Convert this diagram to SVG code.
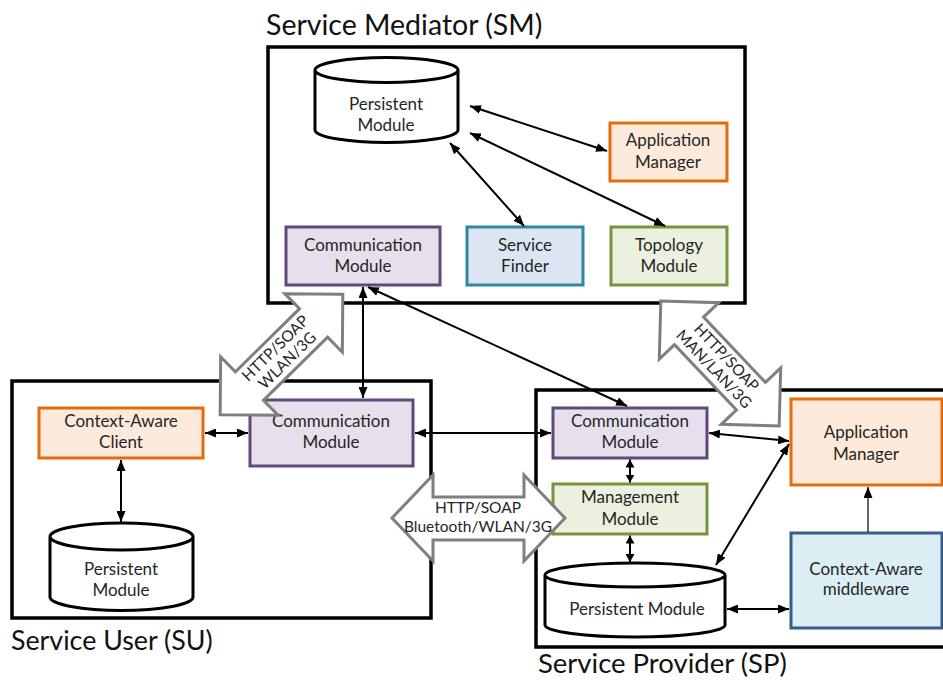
<svg xmlns="http://www.w3.org/2000/svg" width="943" height="682" viewBox="0 0 943 682">
<style>
text{font-family:Lato,"Liberation Sans",sans-serif;fill:#262626;text-anchor:middle}
.t{font-size:17px}
.title{font-size:28.5px;text-anchor:start;fill:#111}
.al{font-size:15.5px}
.cont{fill:none;stroke:#000;stroke-width:3.5}
.cyl{fill:#fff;stroke:#000;stroke-width:3}
.box{stroke-width:3}
.orange{fill:#FDEADA;stroke:#E46C0A}
.purple{fill:#E6E0EC;stroke:#604A7B}
.teal{fill:#DCE6F2;stroke:#31859C}
.green{fill:#EBF1DE;stroke:#77933C}
.blue{fill:#DBEEF4;stroke:#385D8A}
.blk{fill:#fff;stroke:#7F7F7F;stroke-width:3}
.c{stroke:#000;stroke-width:2;fill:none}
</style>
<defs>
<marker id="ah" markerUnits="userSpaceOnUse" markerWidth="11" markerHeight="9" refX="11" refY="4.5" orient="auto-start-reverse"><path d="M0,0 L11,4.5 L0,9 Z" fill="#000"/></marker>
<marker id="ahs" markerUnits="userSpaceOnUse" markerWidth="8" markerHeight="9" refX="8" refY="4.5" orient="auto-start-reverse"><path d="M0,0 L8,4.5 L0,9 Z" fill="#000"/></marker>
</defs>
<rect width="943" height="682" fill="#fff"/>

<g id="containers">
<rect class="cont" x="268" y="47" width="477" height="256"/>
<text class="title" x="266" y="35">Service Mediator (SM)</text>
<rect class="cont" x="12" y="381" width="419" height="237"/>
<text class="title" x="11" y="650" style="font-size:26.8px">Service User (SU)</text>
<rect class="cont" x="536" y="390" width="420" height="257"/>
<text class="title" x="538" y="673" style="font-size:27.5px">Service Provider (SP)</text>
</g>

<g id="sm-persistent">
<path class="cyl" d="M315,70 A71.5,12.5 0 0 1 458,70 V130 A71.5,12.5 0 0 1 315,130 Z M315,70 A71.5,12.5 0 0 0 458,70"/>
<text class="t" x="386" y="110">Persistent</text>
<text class="t" x="386" y="131">Module</text>
</g>
<g id="sm-appmanager">
<rect class="box orange" x="610" y="123" width="117" height="58"/>
<text class="t" x="668" y="146">Application</text>
<text class="t" x="668" y="168">Manager</text>
</g>
<g id="sm-comm">
<rect class="box purple" x="286" y="227" width="154" height="58"/>
<text class="t" x="363" y="251">Communication</text>
<text class="t" x="363" y="272">Module</text>
</g>
<g id="sm-finder">
<rect class="box teal" x="467" y="227" width="116" height="58"/>
<text class="t" x="525" y="251">Service</text>
<text class="t" x="525" y="272">Finder</text>
</g>
<g id="sm-topology">
<rect class="box green" x="611" y="227" width="116" height="58"/>
<text class="t" x="669" y="251">Topology</text>
<text class="t" x="669" y="272">Module</text>
</g>

<g id="su-client">
<rect class="box orange" x="39" y="408" width="164" height="50"/>
<text class="t" x="121" y="427">Context-Aware</text>
<text class="t" x="121" y="448">Client</text>
</g>
<g id="su-comm">
<rect class="box purple" x="250" y="400" width="163" height="66"/>
<text class="t" x="331" y="427">Communication</text>
<text class="t" x="331" y="448">Module</text>
</g>
<g id="su-persistent">
<path class="cyl" d="M50,536.5 A71.5,13.5 0 0 1 193,536.5 V597 A71.5,13.5 0 0 1 50,597 Z M50,536.5 A71.5,13.5 0 0 0 193,536.5"/>
<text class="t" x="121" y="575">Persistent</text>
<text class="t" x="121" y="596">Module</text>
</g>

<g id="sp-comm">
<rect class="box purple" x="553" y="408" width="154" height="50"/>
<text class="t" x="630" y="427">Communication</text>
<text class="t" x="630" y="448">Module</text>
</g>
<g id="sp-management">
<rect class="box green" x="553" y="484" width="154" height="50"/>
<text class="t" x="630" y="503">Management</text>
<text class="t" x="630" y="525">Module</text>
</g>
<g id="sp-persistent">
<path class="cyl" d="M545,575 A90,12 0 0 1 725,575 V625 A90,12 0 0 1 545,625 Z M545,575 A90,12 0 0 0 725,575"/>
<text class="t" x="637" y="615">Persistent Module</text>
</g>
<g id="sp-appmanager">
<rect class="box orange" x="791" y="399" width="151" height="86"/>
<text class="t" x="866" y="438">Application</text>
<text class="t" x="866" y="460">Manager</text>
</g>
<g id="sp-middleware">
<rect class="box blue" x="791" y="533" width="151" height="95"/>
<text class="t" x="866" y="575">Context-Aware</text>
<text class="t" x="866" y="595">middleware</text>
</g>

<g id="connectors">
<line class="c" x1="470" y1="106" x2="607" y2="151" marker-start="url(#ah)" marker-end="url(#ah)"/>
<line class="c" x1="470" y1="133" x2="665" y2="226" marker-start="url(#ah)" marker-end="url(#ah)"/>
<line class="c" x1="450" y1="143" x2="524" y2="226" marker-start="url(#ah)" marker-end="url(#ah)"/>
<line class="c" x1="363" y1="287" x2="363" y2="398" marker-start="url(#ah)" marker-end="url(#ah)"/>
<line class="c" x1="368" y1="287" x2="627" y2="406" marker-start="url(#ah)" marker-end="url(#ah)"/>
<line class="c" x1="205" y1="433" x2="248" y2="433" marker-start="url(#ah)" marker-end="url(#ah)"/>
<line class="c" x1="121" y1="460" x2="121" y2="522" marker-start="url(#ah)" marker-end="url(#ah)"/>
<line class="c" x1="415" y1="433" x2="551" y2="433" marker-start="url(#ah)" marker-end="url(#ah)"/>
<line class="c" x1="630" y1="459.5" x2="630" y2="482.5" marker-start="url(#ahs)" marker-end="url(#ahs)"/>
<line class="c" x1="630" y1="535.5" x2="630" y2="562" marker-start="url(#ahs)" marker-end="url(#ahs)"/>
<line class="c" x1="709" y1="433" x2="789" y2="441" marker-start="url(#ah)" marker-end="url(#ah)"/>
<line class="c" x1="716" y1="565" x2="789" y2="444" marker-start="url(#ah)" marker-end="url(#ah)"/>
<line class="c" x1="727" y1="609" x2="789" y2="609" marker-start="url(#ah)" marker-end="url(#ah)"/>
<line class="c" x1="868" y1="532" x2="868" y2="487" style="stroke:#333;stroke-width:1.5" marker-end="url(#ah)"/>
</g>

<g id="link-su-sm" transform="translate(281.5,354.5) rotate(-44.5)">
<path class="blk" d="M-86,0 L-45,-41 L-45,-20 L45,-20 L45,-41 L86,0 L45,41 L45,20 L-45,20 L-45,41 Z"/>
<text class="al" x="0" y="-3.5">HTTP/SOAP</text>
<text class="al" x="0" y="13.5">WLAN/3G</text>
</g>
<g id="link-sm-sp" transform="translate(720,363.5) rotate(46.5)">
<path class="blk" d="M-86,0 L-45,-41 L-45,-20 L45,-20 L45,-41 L86,0 L45,41 L45,20 L-45,20 L-45,41 Z"/>
<text class="al" x="0" y="-3.5">HTTP/SOAP</text>
<text class="al" x="0" y="13.5">MAN/LAN/3G</text>
</g>
<g id="link-su-sp">
<path class="blk" d="M392,518 L433,475 L433,497 L524,497 L524,475 L565,518 L524,561 L524,540 L433,540 L433,561 Z"/>
<text class="al" x="478" y="513">HTTP/SOAP</text>
<text class="al" x="478" y="532">Bluetooth/WLAN/3G</text>
</g>
</svg>
